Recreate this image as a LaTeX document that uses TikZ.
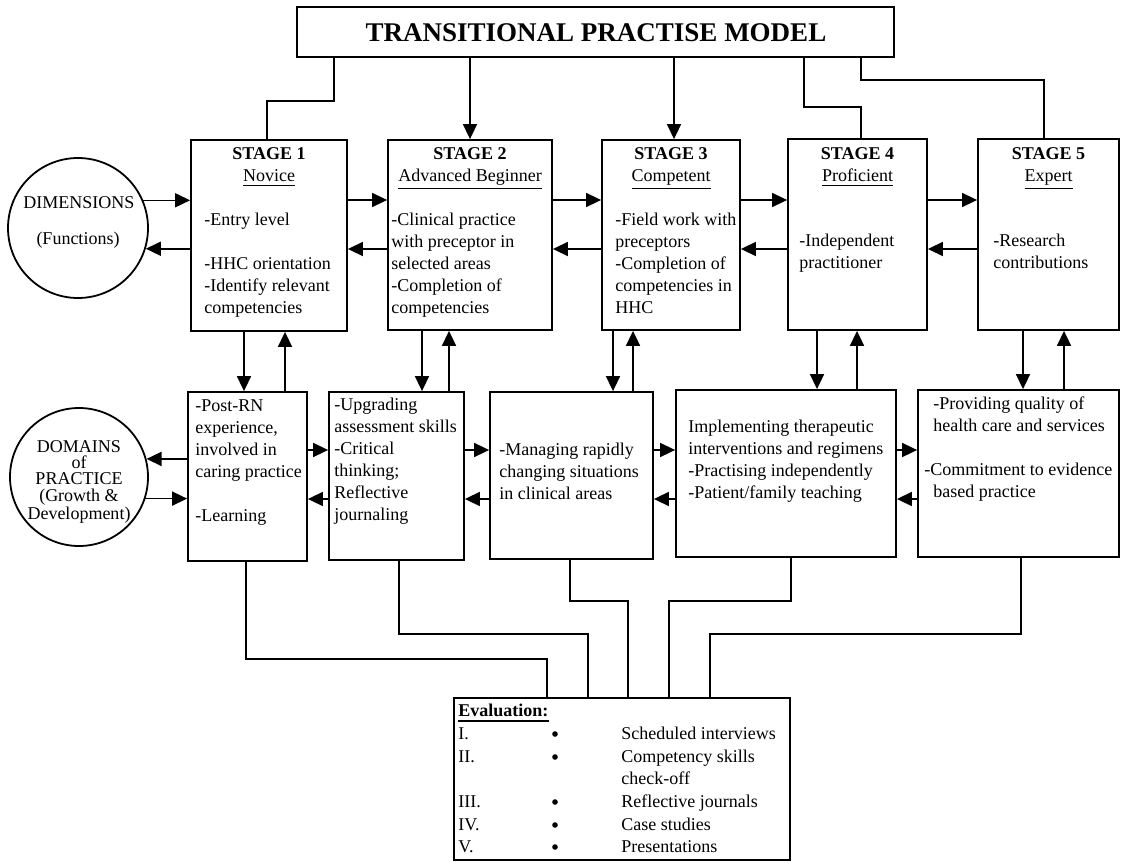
\documentclass[tikz,border=0pt]{standalone}
\usepackage{fontspec}
\setmainfont{Liberation Serif}
\usetikzlibrary{arrows.meta,fit}
\begin{document}
\begin{tikzpicture}[x=0.5pt,y=-0.5pt,
  box/.style={draw,line width=0.9pt,inner sep=0pt},
  ring/.style={draw,circle,line width=0.9pt,inner sep=0pt},
  arr/.style={line width=0.8pt,-{Triangle[length=7.5pt,width=7pt]}},
  wire/.style={line width=0.8pt},
  body/.style={anchor=north west,inner sep=0pt,align=left,font=\fontsize{9}{11}\selectfont},
  head/.style={anchor=base,inner sep=0pt,font=\fontsize{9}{11}\selectfont}]
\fill[white] (0,0) rectangle (1127,861);
\useasboundingbox (0,0) rectangle (1127,861);

% title
\node[box,fit={(297,7) (894,57)}] (title) {};
\node[head,font=\fontsize{13.5}{16}\selectfont\bfseries] (titletext) at (596,42) {TRANSITIONAL PRACTISE MODEL};

% side circles
\node[ring,minimum size=70pt] (dim) at (78,228) {};
\node[head] (dimA) at (79,208) {DIMENSIONS};
\node[head] (dimB) at (78,244) {(Functions)};
\node[ring,minimum size=69pt] (dom) at (79,477) {};
\node[head] (domA) at (79,452) {DOMAINS};
\node[head] (domB) at (79,468) {of};
\node[head] (domC) at (79,484) {PRACTICE};
\node[head] (domD) at (79,501) {(Growth \&};
\node[head] (domE) at (79,519) {Development)};

% stage boxes
\node[box,fit={(191,140) (347,331)}] (s1) {};
\node[box,fit={(388,140) (552,330)}] (s2) {};
\node[box,fit={(602,140) (740,330)}] (s3) {};
\node[box,fit={(788,139) (927,330)}] (s4) {};
\node[box,fit={(978,139) (1119,330)}] (s5) {};

\node[head] (h1) at (269,160) {\textbf{STAGE 1}};
\node[head] (u1) at (269,182) {\underline{Novice}};
\node[head] (h2) at (470,160) {\textbf{STAGE 2}};
\node[head] (u2) at (470,182) {\underline{Advanced Beginner}};
\node[head] (h3) at (671,160) {\textbf{STAGE 3}};
\node[head] (u3) at (671,182) {\underline{Competent}};
\node[head] (h4) at (857.5,160) {\textbf{STAGE 4}};
\node[head] (u4) at (857.5,182) {\underline{Proficient}};
\node[head] (h5) at (1048.5,160) {\textbf{STAGE 5}};
\node[head] (u5) at (1048.5,182) {\underline{Expert}};

\node[body] (t1) at (204,209.6) {\strut -Entry level\\[11pt]-HHC orientation\\-Identify relevant\\competencies};
\node[body] (t2) at (391,209.6) {\strut -Clinical practice\\with preceptor in\\selected areas\\-Completion of\\competencies};
\node[body] (t3) at (615,209.6) {\strut -Field work with\\preceptors\\-Completion of\\competencies in\\HHC};
\node[body] (t4) at (799,230.6) {\strut -Independent\\practitioner};
\node[body] (t5) at (993,230.6) {\strut -Research\\contributions};

% domain boxes
\node[box,fit={(188,392) (307,561)}] (b1) {};
\node[box,fit={(329,392) (464,560)}] (b2) {};
\node[box,fit={(490,392) (653,559)}] (b3) {};
\node[box,fit={(676,390) (896,557)}] (b4) {};
\node[box,fit={(918,390) (1119,557)}] (b5) {};

\node[body] (d1) at (195,395.6) {\strut -Post-RN\\experience,\\involved in\\caring practice\\[11pt]-Learning};
\node[body] (d2) at (334,394.6) {\strut -Upgrading\\assessment skills\\-Critical\\thinking;\\Reflective\\journaling};
\node[body] (d3) at (499,439.6) {\strut -Managing rapidly\\changing situations\\in clinical areas};
\node[body] (d4) at (688,416.6) {\strut Implementing therapeutic\\interventions and regimens\\-Practising independently\\-Patient/family teaching};
\node[body] (d5a) at (933,393.6) {\strut -Providing quality of\\health care and services};
\node[body] (d5b) at (924,459.6) {\strut -Commitment to evidence\\\hspace*{4.5pt}based practice};

% evaluation box
\node[box,fit={(454,698) (790,860)}] (eval) {};
\node[head,anchor=base west] (evh) at (458,716) {\textbf{Evaluation:}};
\draw[line width=0.9pt] (evh.base west) ++(0,5) coordinate (ul1) -- (evh.base east |- ul1);
\foreach \r/\n/\t/\y in {r1/I./Scheduled interviews/739, r2/II./Competency skills/762,
    r3/III./Reflective journals/807, r4/IV./Case studies/830, r5/V./Presentations/852}{
  \node[head,anchor=base west] (\r n) at (458,\y) {\n};
  \node[circle,fill,inner sep=0pt,minimum size=2.8pt] (\r b) at (555,\y-5) {};
  \node[head,anchor=base west] (\r t) at (621,\y) {\t};
}
\node[head,anchor=base west] (r2c) at (621,784) {check-off};

% title to stages
\draw[wire] (title.south -| 334,0) -- (334,101) -- (267,101) -- (s1.north -| 267,0);
\draw[arr] (title.south -| 470,0) -- (s2.north -| 470,0);
\draw[arr] (title.south -| 674,0) -- (s3.north -| 674,0);
\draw[wire] (title.south -| 804,0) -- (804,107) -- (861,107) -- (s4.north -| 861,0);
\draw[wire] (title.south -| 861,0) -- (861,80) -- (1044,80) -- (s5.north -| 1044,0);

% horizontal links, stage row
\draw[arr] (dim.23.6) -- (s1.west |- dim.23.6);
\draw[arr] (s1.west |- dim.-17.5) -- (dim.-17.5);
\foreach \a/\b in {s1/s2,s2/s3,s3/s4,s4/s5}{
  \draw[arr] (\a.east |- 0,200) -- (\b.west |- 0,200);
  \draw[arr] (\b.west |- 0,249) -- (\a.east |- 0,249);
}

% horizontal links, domain row
\draw[arr] (b1.west |- dom.15.1) -- (dom.15.1);
\draw[arr] (dom.-18.6) -- (b1.west |- dom.-18.6);
\foreach \a/\b in {b1/b2,b2/b3,b3/b4,b4/b5}{
  \draw[arr] (\a.east |- 0,450) -- (\b.west |- 0,450);
  \draw[arr] (\b.west |- 0,499) -- (\a.east |- 0,499);
}

% vertical links between rows
\foreach \s/\b/\d/\u in {s1/b1/244/285, s2/b2/422/449, s3/b3/613/633, s4/b4/817/857, s5/b5/1023/1064}{
  \draw[arr] (\s.south -| \d,0) -- (\b.north -| \d,0);
  \draw[arr] (\b.north -| \u,0) -- (\s.south -| \u,0);
}

% domains to evaluation
\draw[wire] (b1.south -| 246,0) -- (246,659) -- (547,659) -- (eval.north -| 547,0);
\draw[wire] (b2.south -| 399,0) -- (399,634) -- (588,634) -- (eval.north -| 588,0);
\draw[wire] (b3.south -| 570,0) -- (570,601) -- (628,601) -- (eval.north -| 628,0);
\draw[wire] (b4.south -| 791,0) -- (791,601) -- (669,601) -- (eval.north -| 669,0);
\draw[wire] (b5.south -| 1021,0) -- (1021,634) -- (710,634) -- (eval.north -| 710,0);
\end{tikzpicture}
\end{document}
